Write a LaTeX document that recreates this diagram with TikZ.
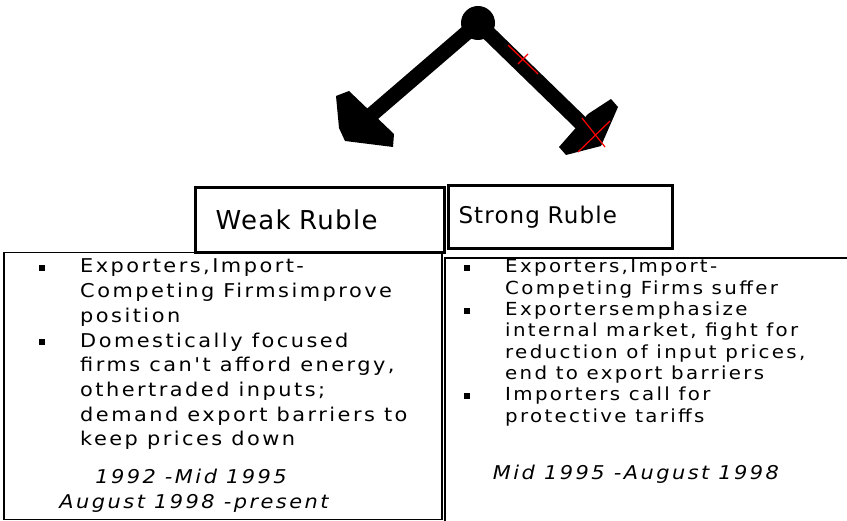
\documentclass[tikz,border=0pt]{standalone}
\usepackage{fontspec}
\setmainfont{DejaVu Sans}
\newfontfamily\bodyfont[FakeStretch=1.1,LetterSpace=13]{DejaVu Sans}
\newfontfamily\titlefont[LetterSpace=5]{DejaVu Sans}
\newcommand\sqbul{\rule[2pt]{6pt}{6pt}}
\begin{document}
\begin{tikzpicture}[x=1pt,y=-1pt,
  titlebox/.style={draw=black,line width=3pt,rectangle,inner sep=0pt,align=left,font=\titlefont},
  bigbox/.style={draw=black,line width=1.5pt,rectangle,inner sep=0pt},
  txt/.style={inner sep=0pt,anchor=base west},
  datetxt/.style={inner sep=0pt,anchor=base,font=\bodyfont\itshape\fontsize{19}{24}\selectfont},
  shaft/.style={line width=15pt},
  head/.style={fill=black},
  redline/.style={draw=red,line width=1.2pt}]
\useasboundingbox (0,0) rectangle (847,521);
% arrows
\node[circle,fill=black,minimum size=34pt,inner sep=0pt] (hub) at (478,23) {};
\coordinate (lend) at (370,116);
\coordinate (rend) at (586,128);
\draw[shaft] (hub.center) -- (lend);
\draw[shaft] (hub.center) -- (rend);
\fill[head] (336,96) -- (349,91) -- (394,134) -- (393,147) -- (345,141) -- (339,128) -- cycle;
\fill[head] (559,147) -- (588,114) -- (611,99) -- (618,107) -- (601,146) -- (566,155) -- cycle;
% red crosshairs
\draw[redline] (508,45) -- (538,74);
\draw[redline] (518,64) -- (528,54);
\draw[redline] (582,118) -- (605,147);
\draw[redline] (578,152) -- (610,121);
% title boxes
\node[titlebox,font=\titlefont\fontsize{26}{30}\selectfont,minimum height=65pt,text width=249pt,anchor=north west] (weak) at (194,186) {\hspace*{20pt}Weak Ruble};
\node[titlebox,font=\titlefont\fontsize{23}{27}\selectfont,minimum height=63pt,text width=224pt,anchor=north west] (strong) at (447,184) {\hspace*{10pt}Strong Ruble};
% big boxes
\node[bigbox,minimum width=438pt,minimum height=267pt,anchor=north west] (leftbox) at (3,252) {};
\node[bigbox,line width=2pt,minimum width=420pt,minimum height=280pt,anchor=north west] (rightbox) at (444,257) {};
% left text
\node[txt] (lefttext) at (39,273) {\bodyfont\fontsize{19}{24.7}\selectfont
\begin{tabular}[t]{@{}p{41pt}@{}l@{}}
\sqbul & Exporters,Import-\\
 & Competing Firmsimprove\\
 & position\\
\sqbul & Domestically focused\\
 & firms can't afford energy,\\
 & othertraded inputs;\\
 & demand export barriers to\\
 & keep prices down
\end{tabular}};
\node[datetxt] (leftdate1) at (191,484) {1992 -Mid 1995};
\node[datetxt] (leftdate2) at (194,509) {August 1998 -present};
% right text
\node[txt] (righttext) at (464,273) {\bodyfont\fontsize{18}{21.3}\selectfont
\begin{tabular}[t]{@{}p{41pt}@{}l@{}}
\sqbul & Exporters,Import-\\
 & Competing Firms suffer\\
\sqbul & Exportersemphasize\\
 & internal market, fight for\\
 & reduction of input prices,\\
 & end to export barriers\\
\sqbul & Importers call for\\
 & protective tariffs
\end{tabular}};
\node[datetxt] (rightdate) at (636,479) {Mid 1995 -August 1998};
\end{tikzpicture}
\end{document}
